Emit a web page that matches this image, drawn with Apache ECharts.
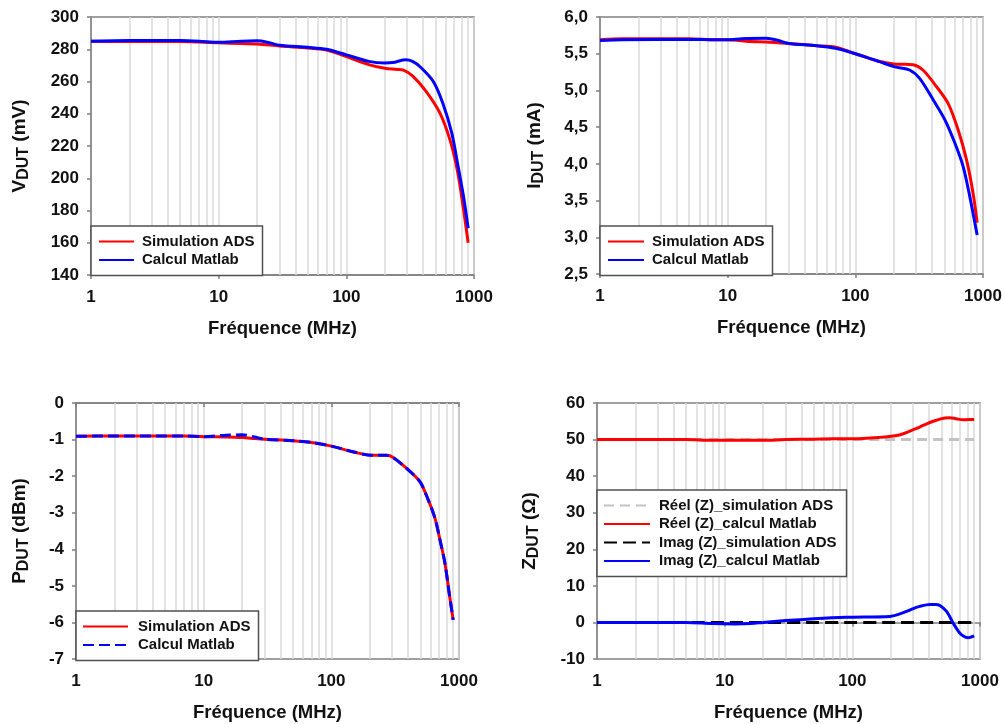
<!DOCTYPE html>
<html>
<head>
<meta charset="utf-8">
<title>Tension, courant, puissance et impédance du DUT</title>
<script src="https://cdn.jsdelivr.net/npm/echarts@6/dist/echarts.min.js"></script>
<style>
  html, body { margin: 0; padding: 0; background: #fff; }
  #chart { width: 1005px; height: 724px; }
</style>
</head>
<body>
<div id="chart"></div>
<script>
// ---- Data (frequency in MHz) ----
// V_DUT (mV)
const vFreqAds = [1, 2, 5, 7, 10, 15, 20, 30, 50, 70, 100, 150, 200, 250, 280, 330, 420, 540, 650, 740, 820, 900];
const vAds     = [285, 284.8, 284.8, 284.5, 284, 283.5, 283.3, 282, 280.8, 279.5, 275.5, 270.5, 268.2, 267.5, 267, 263.5, 254, 240.5, 223.5, 205, 183, 160];
const vFreqMat = [1, 2, 5, 7, 10, 15, 20, 25, 30, 50, 70, 100, 150, 200, 240, 290, 330, 380, 480, 570, 670, 750, 830, 900];
const vMat     = [285, 285.5, 285.4, 285, 284.3, 285, 285.2, 284, 282.5, 281.2, 280, 276.5, 272.5, 271.5, 272, 273.5, 272.5, 269, 260, 246.5, 228, 207.5, 188, 169];

// I_DUT (mA)
const iFreqAds = [1, 1.5, 5, 8, 10, 15, 20, 30, 50, 70, 100, 150, 200, 250, 284, 340, 433, 534, 639, 744, 838, 900];
const iAds     = [5.69, 5.705, 5.705, 5.69, 5.69, 5.665, 5.66, 5.64, 5.61, 5.59, 5.50, 5.40, 5.36, 5.355, 5.35, 5.275, 5.05, 4.82, 4.46, 4.05, 3.59, 3.2];
const iFreqMat = [1, 1.5, 5, 8, 10, 13, 20, 25, 30, 50, 70, 100, 150, 204, 268, 320, 408, 503, 603, 700, 789, 900];
const iMat     = [5.68, 5.69, 5.695, 5.69, 5.69, 5.705, 5.71, 5.68, 5.64, 5.61, 5.575, 5.50, 5.40, 5.32, 5.275, 5.16, 4.87, 4.60, 4.28, 3.96, 3.55, 3.03];

// P_DUT (dBm)
const pFreq = [1, 2, 5, 7, 10, 15, 20, 25, 30, 50, 70, 100, 150, 207, 271, 305, 389, 494, 574, 648, 709, 776, 838, 900];
const pAds  = [-0.91, -0.9, -0.9, -0.9, -0.92, -0.93, -0.945, -0.97, -0.99, -1.03, -1.08, -1.18, -1.34, -1.43, -1.43, -1.49, -1.79, -2.15, -2.65, -3.15, -3.74, -4.38, -5.2, -5.93];
const pMat  = [-0.91, -0.9, -0.9, -0.9, -0.92, -0.88, -0.87, -0.93, -0.99, -1.03, -1.08, -1.18, -1.34, -1.43, -1.43, -1.49, -1.79, -2.15, -2.65, -3.15, -3.74, -4.38, -5.2, -5.93];

// Z_DUT (ohm)
const zFreqAds   = [1, 900];
const zRealAds   = [50, 50];
const zImagAds   = [0, 0];
const zFreqReal  = [1, 5, 8, 12, 20, 30, 50, 70, 100, 164, 222, 260, 300, 340, 382, 430, 485, 530, 581, 650, 738, 820, 900];
const zRealMat   = [50, 50, 49.8, 49.8, 49.8, 50, 50.1, 50.2, 50.2, 50.6, 51.1, 51.8, 52.7, 53.5, 54.3, 55.0, 55.6, 55.9, 56, 55.7, 55.4, 55.5, 55.5];
const zFreqImag  = [1, 5, 8, 12, 16, 20, 30, 50, 90, 197, 230, 266, 300, 338, 405, 450, 485, 547, 617, 670, 718, 809, 900];
const zImagMat   = [0, 0, -0.3, -0.4, -0.3, 0, 0.5, 1.0, 1.4, 1.65, 2.2, 3.0, 3.8, 4.4, 4.9, 4.9, 4.6, 3.0, -0.2, -2.2, -3.4, -4.2, -3.7];

// Log-scale minor gridline positions (2..9 of each decade)
const minorFreqs = [2, 3, 4, 5, 6, 7, 8, 9, 20, 30, 40, 50, 60, 70, 80, 90, 200, 300, 400, 500, 600, 700, 800, 900];
const xTickLabels = ['1', '10', '100', '1000'];

// ---- Helpers ----
const FONT = '"Liberation Sans", Arial, Helvetica, sans-serif';
const TXT = '#111111';
const FRAME = '#808080';
const GRIDC = '#dadada';

const pairs = (xs, ys) => xs.map((x, i) => [x, ys[i]]);

const grids = [
  { left: 91,  top: 17,  width: 383, height: 258 },
  { left: 600, top: 17,  width: 383, height: 257 },
  { left: 76,  top: 403, width: 383, height: 256 },
  { left: 597, top: 403, width: 383, height: 256 }
];

const yDefs = [
  { sym: 'V', unit: ' (mV)',  min: 140, max: 300, interval: 20,  gap: 59, fmt: v => String(v) },
  { sym: 'I', unit: ' (mA)',  min: 2.5, max: 6,   interval: 0.5, gap: 53, fmt: v => v.toFixed(1).replace('.', ',') },
  { sym: 'P', unit: ' (dBm)', min: -7,  max: 0,   interval: 1,   gap: 44, fmt: v => String(v) },
  { sym: 'Z', unit: ' (Ω)',   min: -10, max: 60,  interval: 10,  gap: 55, fmt: v => String(v) }
];

const xAxes = grids.map((g, i) => ({
  type: 'log', logBase: 10, min: 1, max: 1000, gridIndex: i,
  name: 'Fréquence (MHz)', nameLocation: 'middle', nameGap: 44,
  nameTextStyle: { fontSize: 18.5, fontWeight: 'bold', color: TXT, fontFamily: FONT },
  axisLine: { show: true, lineStyle: { color: FRAME, width: 1.5 } },
  axisTick: { show: true, inside: false, length: 4, lineStyle: { color: FRAME, width: 1.5 } },
  axisLabel: {
    fontSize: 17, fontWeight: 'bold', color: TXT, margin: 14, fontFamily: FONT,
    formatter: v => xTickLabels[Math.round(Math.log10(v))]
  },
  splitLine: { show: true, lineStyle: { color: GRIDC, width: 1.5 } }
}));

const yAxes = yDefs.map((d, i) => ({
  type: 'value', gridIndex: i, min: d.min, max: d.max, interval: d.interval,
  name: '{m|' + d.sym + '}{s|DUT}{m|' + d.unit + '}',
  nameLocation: 'middle', nameGap: d.gap, nameRotate: 90,
  nameTextStyle: {
    fontFamily: FONT, color: TXT,
    rich: {
      m: { fontSize: 19, fontWeight: 'bold', color: TXT, fontFamily: FONT, lineHeight: 24 },
      s: { fontSize: 16, fontWeight: 'bold', color: TXT, fontFamily: FONT, lineHeight: 16, verticalAlign: 'bottom' }
    }
  },
  axisLine: { show: true, lineStyle: { color: FRAME, width: 1.5 } },
  axisTick: { show: true, inside: false, length: 4, lineStyle: { color: FRAME, width: 1.5 } },
  axisLabel: { fontSize: 17, fontWeight: 'bold', color: TXT, margin: 12, fontFamily: FONT, formatter: d.fmt },
  splitLine: { show: false }
}));

// Minor vertical gridlines drawn through each grid's own log axis, kept beneath the curves
const minorGridSeries = grids.map((g, i) => ({
  type: 'line', xAxisIndex: i, yAxisIndex: i, data: [], z: 1, silent: true,
  markLine: {
    z: 1, silent: true, symbol: ['none', 'none'], label: { show: false },
    lineStyle: { color: GRIDC, width: 1.5, type: 'solid' },
    emphasis: { disabled: true },
    data: minorFreqs.map(f => ({ xAxis: f }))
  }
}));

function curve(name, idx, xs, ys, color, type, z) {
  return {
    name, type: 'line', xAxisIndex: idx, yAxisIndex: idx,
    data: pairs(xs, ys), showSymbol: false, symbol: 'none',
    smooth: 0.3,
    lineStyle: { color, width: 3, type: type || 'solid' },
    itemStyle: { color, opacity: 0 }, z, silent: true
  };
}

const series = [
  ...minorGridSeries,
  curve('V|Simulation ADS', 0, vFreqAds, vAds, '#ff0000', 'solid', 6),
  curve('V|Calcul Matlab',  0, vFreqMat, vMat, '#0000ff', 'solid', 7),
  curve('I|Simulation ADS', 1, iFreqAds, iAds, '#ff0000', 'solid', 6),
  curve('I|Calcul Matlab',  1, iFreqMat, iMat, '#0000ff', 'solid', 7),
  curve('P|Simulation ADS', 2, pFreq, pAds, '#ff0000', 'solid', 6),
  curve('P|Calcul Matlab',  2, pFreq, pMat, '#0000ff', [11, 5], 7),
  curve('Z|Réel (Z)_simulation ADS', 3, zFreqAds, zRealAds, '#c3c3c3', [10, 6], 6),
  curve('Z|Réel (Z)_calcul Matlab',  3, zFreqReal, zRealMat, '#ff0000', 'solid', 7),
  curve('Z|Imag (Z)_simulation ADS', 3, zFreqAds, zImagAds, '#000000', [13, 6], 6),
  curve('Z|Imag (Z)_calcul Matlab',  3, zFreqImag, zImagMat, '#0000ff', 'solid', 7)
];

function legend(names, left, top, itemWidth, pad, gapText) {
  return {
    data: names, orient: 'vertical', left, top, z: 10,
    itemWidth, itemHeight: 14, itemGap: 3.5,
    padding: pad, selectedMode: false,
    itemStyle: { opacity: 0 },
    backgroundColor: '#ffffff', borderColor: '#505050', borderWidth: 1.5, borderRadius: 0,
    formatter: n => n.split('|')[1],
    textStyle: { fontSize: 15, fontWeight: 'bold', color: TXT, fontFamily: FONT, padding: [0, 0, 0, gapText] }
  };
}

const option = {
  animation: false,
  backgroundColor: '#ffffff',
  textStyle: { fontFamily: FONT },
  grid: grids.map(g => Object.assign({ show: true, borderColor: FRAME, borderWidth: 1.5, backgroundColor: 'transparent', containLabel: false }, g)),
  xAxis: xAxes,
  yAxis: yAxes,
  legend: [
    legend(['V|Simulation ADS', 'V|Calcul Matlab'], 91, 226, 35, [8, 8, 8, 7], 3),
    legend(['I|Simulation ADS', 'I|Calcul Matlab'], 600, 226, 36, [8, 8, 8, 7], 3),
    legend(['P|Simulation ADS', 'P|Calcul Matlab'], 76, 611, 45, [8, 8, 8, 6], 5),
    legend(['Z|Réel (Z)_simulation ADS', 'Z|Réel (Z)_calcul Matlab', 'Z|Imag (Z)_simulation ADS', 'Z|Imag (Z)_calcul Matlab'], 597, 490, 46, [8, 10, 8, 6], 4)
  ],
  series
};

const chart = echarts.init(document.getElementById('chart'), null, { renderer: 'canvas' });
chart.setOption(option);
</script>
</body>
</html>
